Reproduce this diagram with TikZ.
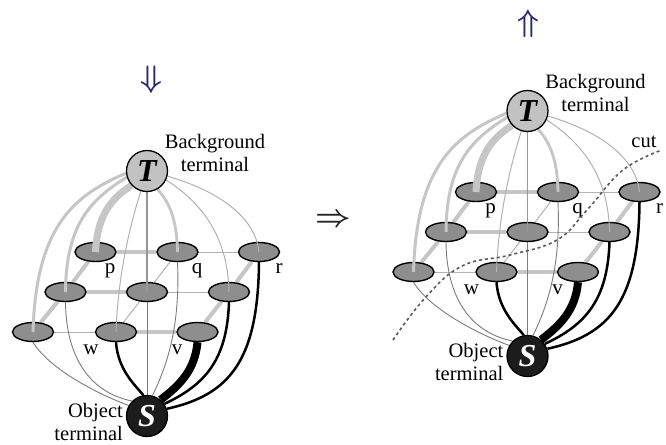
\RequirePackage{fix-cm}
\documentclass[tikz,border=0pt]{standalone}
\usepackage{fontspec}
\setmainfont{Liberation Serif}
\usetikzlibrary{shapes.geometric}

\pgfdeclarelayer{paper}
\pgfdeclarelayer{back}
\pgfdeclarelayer{front}
\pgfsetlayers{paper,back,main,front}

\definecolor{tfill}{HTML}{C2C2C2}
\definecolor{pixfill}{HTML}{8E8E8E}
\definecolor{sfill}{HTML}{1C1C1C}
\definecolor{bglink}{HTML}{C6C6C6}
\definecolor{bgthin}{HTML}{B2B2B2}
\definecolor{objthin}{HTML}{7C7C7C}
\definecolor{arrowblue}{HTML}{2A2A6E}
\definecolor{cutgray}{HTML}{5A5A5A}

\tikzset{
  pix/.style={ellipse, draw=black, line width=1.4pt, fill=pixfill,
    minimum width=41pt, minimum height=19pt, inner sep=0pt},
  term/.style={circle, draw=black, line width=1.3pt, minimum size=41pt,
    inner sep=0pt, font=\fontsize{32}{32}\selectfont\bfseries\itshape},
  txt/.style={font=\fontsize{20.5}{23}\selectfont, inner sep=0pt},
  lbl/.style={font=\fontsize{21}{21}\selectfont, inner sep=0pt, anchor=base},
  nthick/.style={draw=bglink, line width=4pt},
  nthin/.style={draw=bgthin, line width=1pt},
  tlink/.style={draw=bglink, line width=#1},
  tthin/.style={draw=bgthin, line width=1pt},
  tmid/.style={draw=bgthin!85!black, line width=1.4pt},
  slink/.style={draw=black, line width=#1},
  sthin/.style={draw=objthin, line width=0.9pt},
  cutline/.style={draw=cutgray, line width=1.6pt, dash pattern=on 3pt off 3pt},
  bigsym/.style={font=\fontsize{31}{31}\selectfont\boldmath, inner sep=0pt,
    text height=20pt, text depth=5pt},
}

% one grid graph with its two terminals and all links
\newcommand\segmentgraph{%
  \begin{pgfonlayer}{front}
    \node[term, fill=tfill] (T) at (147,171) {T};
    \node[term, fill=sfill, text=white] (S) at (147,416) {S};
  \end{pgfonlayer}
  % pixel nodes: back, middle and front rows
  \node[pix] (p)  at (95.5,252) {};
  \node[pix] (q)  at (177.5,252) {};
  \node[pix] (r)  at (259,252) {};
  \node[pix] (ml) at (65.5,292) {};
  \node[pix] (mc) at (147,292) {};
  \node[pix] (mr) at (229,292) {};
  \node[pix] (fl) at (33,332) {};
  \node[pix] (w)  at (116,332) {};
  \node[pix] (v)  at (197.5,332) {};
  % pixel labels
  \node[lbl] (plab) at (110,273) {p};
  \node[lbl] (qlab) at (197,273) {q};
  \node[lbl] (rlab) at (279,273) {r};
  \node[lbl] (wlab) at (91,354) {w};
  \node[lbl] (vlab) at (177,354) {v};
  % terminal captions
  \node[txt, align=center, anchor=north] (tcap) at (215,134.5) {Background\\terminal};
  \node[txt, align=right, anchor=north east] (scap) at (123,403) {Object\\terminal};
  \begin{pgfonlayer}{back}
    % neighbourhood links
    \draw[nthick] (p) -- (q);
    \draw[nthin]  (q) -- (r);
    \draw[nthick] (ml) -- (mc);
    \draw[nthin]  (mc) -- (mr);
    \draw[nthin]  (fl) -- (w);
    \draw[nthick] (w) -- (v);
    \draw[nthick] (p) -- (ml);
    \draw[nthick] (ml) -- (fl);
    \draw[nthin]  (q) -- (mc);
    \draw[nthin]  (mc) -- (w);
    \draw[nthick] (r) -- (mr);
    \draw[nthick] (mr) -- (v);
    % object terminal links
    \draw[sthin] (S.150) .. controls (100,395) and (50,370) .. (fl.south);
    \draw[sthin] (S.135) .. controls (88,392) and (66,355) .. (ml.south);
    \draw[slink=2.5pt] (S.100) .. controls (135,385) and (118,370) .. (w.south);
    \draw[sthin] (S.north) -- (mc.south);
    \draw[sthin] (S.75) .. controls (170,360) and (180,320) .. (q.south);
    \draw[slink=8pt] (S.50) .. controls (180,385) and (195,370) .. (v.south);
    \draw[slink=2.5pt] (S.35) .. controls (205,385) and (227,360) .. (mr.south);
    \draw[slink=2.5pt] (S.20) .. controls (230,395) and (258,360) .. (r.south);
  \end{pgfonlayer}
  % background terminal links
  \draw[tlink=3pt] (T.186) .. controls (75,195) and (36,225) .. (fl.center);
  \draw[tlink=3pt] (T.197) .. controls (90,200) and (66,225) .. (ml.center);
  \draw[tlink=7pt] (T.223) .. controls (108,200) and (97,220) .. (p.center);
  \draw[tthin] (T.253) .. controls (130,225) and (118,275) .. (w.center);
  \draw[tmid] (T.south) -- (mc.center);
  \draw[tlink=2.8pt] (T.300) .. controls (172,205) and (177,225) .. (q.center);
  \draw[tthin] (T.335) .. controls (205,205) and (228,240) .. (mr.center);
  \draw[tthin] (T.346) .. controls (215,190) and (255,215) .. (r.center);
}

\begin{document}
\begin{tikzpicture}[x=1pt, y=-1pt]
  \useasboundingbox (0,0) rectangle (666,444);
  \begin{pgfonlayer}{paper}
    \fill[white] (0,0) rectangle (666,444);
  \end{pgfonlayer}

  \begin{scope}[name prefix=L-]
    \segmentgraph
  \end{scope}
  \begin{scope}[shift={(380.5,-60)}, name prefix=R-]
    \segmentgraph
  \end{scope}

  % the cut separating the two terminals
  \draw[cutline] plot[smooth, tension=0.7] coordinates
    {(393,340) (425,298) (462,266) (510,255) (557,240) (587,210) (623,170) (662,150)};
  \node[txt] (cutlab) at (644,142) {cut};

  % flow arrows
  \node[bigsym, text=arrowblue] (down) at (151,80) {$\Downarrow$};
  \node[bigsym, text=arrowblue] (up) at (528.5,24) {$\Uparrow$};
  \node[bigsym, text=black!85] (right) at (333,219) {$\Rightarrow$};
\end{tikzpicture}
\end{document}
